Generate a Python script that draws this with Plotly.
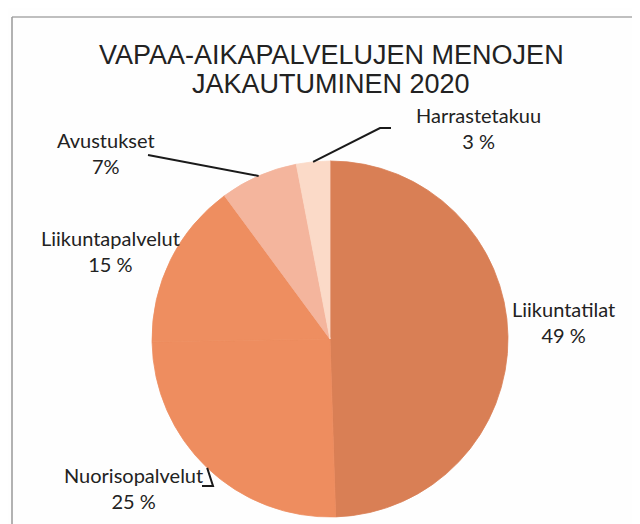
import math
import plotly.graph_objects as go

categories = ["Liikuntatilat", "Nuorisopalvelut", "Liikuntapalvelut", "Avustukset", "Harrastetakuu"]
shares = [49, 25, 15, 7, 3]
share_labels = ["49 %", "25 %", "15 %", "7%", "3 %"]
colors = ["#D97F55", "#EE8D5F", "#EE8E60", "#F4B59D", "#FBDAC8"]
title_lines = ["VAPAA-AIKAPALVELUJEN MENOJEN", "JAKAUTUMINEN 2020"]

W, H = 640, 524
CX, CY, R = 322, 331, 178

def px(x):
    return x / W

def py(y):
    return 1 - y / H

fig = go.Figure(go.Pie(
    labels=categories,
    values=shares,
    sort=False,
    direction="clockwise",
    rotation=0,
    marker=dict(colors=colors, line=dict(color=colors, width=0.8)),
    textinfo="none",
    hoverinfo="label+percent",
    showlegend=False,
    domain=dict(x=[px(CX - R), px(CX + R)], y=[py(CY + R), py(CY - R)]),
))

# label placement (layout), leader lines anchored at slice mid-angles computed from data
label_pos = {
    "Liikuntatilat": (555, 314),
    "Nuorisopalvelut": (125, 480),
    "Liikuntapalvelut": (102, 243),
    "Avustukset": (98, 145),
    "Harrastetakuu": (470, 120),
}
leader_tail = {
    "Avustukset": [(140, 147)],
    "Harrastetakuu": [(372, 120), (383, 120)],
    "Nuorisopalvelut": [(205, 478), (194, 478)],
}

total = sum(shares)
cum = 0
anchors = {}
for c, v in zip(categories, shares):
    mid = (cum + v / 2) / total * 2 * math.pi
    anchors[c] = (CX + R * math.sin(mid), CY - R * math.cos(mid))
    cum += v

annotations = []
for line, y in zip(title_lines, [47, 76]):
    annotations.append(dict(
        text=line, x=px(323), y=py(y), xref="paper", yref="paper",
        showarrow=False, xanchor="center", yanchor="middle",
        font=dict(family="Liberation Sans, Arial", size=27, color="#222222"),
    ))
for c, s in zip(categories, share_labels):
    x, y = label_pos[c]
    annotations.append(dict(
        text=f"{c}<br>{s}", x=px(x), y=py(y), xref="paper", yref="paper",
        showarrow=False, xanchor="center", yanchor="middle", align="center",
        font=dict(family="Lato, Open Sans", size=20, color="#222222"),
    ))

shapes = []
for c, tail in leader_tail.items():
    ax, ay = anchors[c]
    pts = [(ax, ay)] + tail
    path = "M " + " L ".join(f"{px(x):.5f},{py(y):.5f}" for x, y in pts)
    shapes.append(dict(type="path", path=path, xref="paper", yref="paper",
                       line=dict(color="#1a1a1a", width=2)))

# outer frame (top and left edges visible)
shapes.append(dict(type="line", xref="paper", yref="paper", x0=px(4), x1=1.0, y0=py(9), y1=py(9),
                   line=dict(color="#aaaaaa", width=1.5)))
shapes.append(dict(type="line", xref="paper", yref="paper", x0=px(4), x1=px(4), y0=py(9), y1=0.0,
                   line=dict(color="#999999", width=1.5)))

fig.update_layout(
    width=W, height=H,
    margin=dict(l=0, r=0, t=0, b=0),
    paper_bgcolor="#FEFEFE",
    plot_bgcolor="#FEFEFE",
    annotations=annotations,
    shapes=shapes,
)

fig.write_html("out.html")
